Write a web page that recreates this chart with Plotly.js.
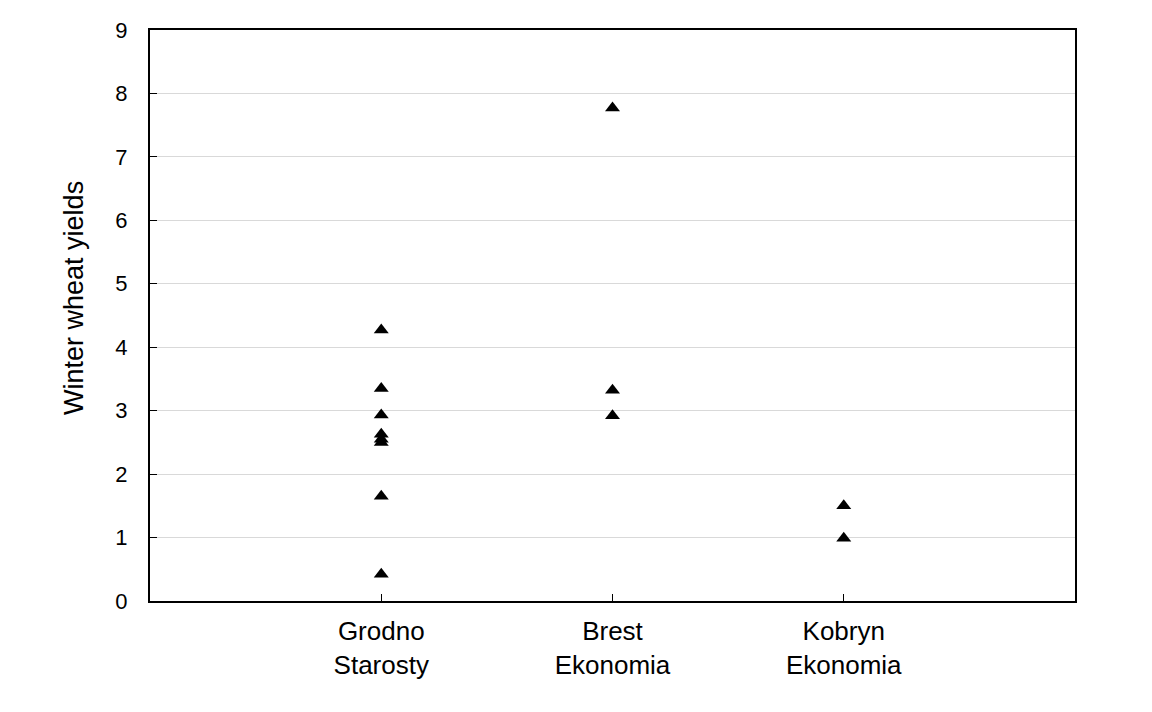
<!DOCTYPE html>
<html>
<head>
<meta charset="utf-8">
<script src="https://cdn.plot.ly/plotly-3.0.1.min.js"></script>
<style>html,body{margin:0;padding:0;background:#fff;}</style>
</head>
<body>
<div id="chart" style="width:1152px;height:712px;"></div>
<script>
const categories = ["Grodno<br>Starosty", "Brest<br>Ekonomia", "Kobryn<br>Ekonomia"];
const grodnoYields = [4.27, 3.35, 2.93, 2.63, 2.55, 2.50, 1.65, 0.42];
const brestYields = [7.77, 3.32, 2.92];
const kobrynYields = [1.50, 0.99];
const yTicks = [0, 1, 2, 3, 4, 5, 6, 7, 8, 9];
const yTitle = 'Winter wheat yields';

const groups = [grodnoYields, brestYields, kobrynYields];
const xs = [], ys = [];
groups.forEach((g, i) => g.forEach(v => { xs.push(i); ys.push(v); }));

const trace = {
  x: xs, y: ys, type: 'scatter', mode: 'markers',
  marker: {symbol: 'triangle-up', size: 13, color: '#000'},
  hoverinfo: 'y'
};

const layout = {
  width: 1152, height: 712,
  margin: {l: 150, r: 77, t: 30, b: 111},
  paper_bgcolor: '#fff', plot_bgcolor: '#fff',
  font: {family: 'Liberation Sans, Arial, sans-serif', color: '#000', size: 22},
  showlegend: false,
  xaxis: {
    range: [-1, 3],
    tickmode: 'array', tickvals: [0, 1, 2], ticktext: categories,
    ticks: 'inside', ticklen: 7, tickwidth: 1, tickcolor: '#000',
    showline: true, linecolor: '#000', linewidth: 2, mirror: true,
    showgrid: false, zeroline: false,
    tickfont: {size: 26}, ticklabelstandoff: 6
  },
  yaxis: {
    range: [0, 9],
    tickmode: 'array', tickvals: yTicks, ticktext: yTicks.map(String),
    ticks: 'inside', ticklen: 7, tickwidth: 1, tickcolor: '#000',
    showline: true, linecolor: '#000', linewidth: 2, mirror: true,
    showgrid: true, gridcolor: '#d9d9d9', gridwidth: 1, zeroline: false,
    tickfont: {size: 22}, ticklabelstandoff: 16
  },
  annotations: [{
    text: yTitle, textangle: -90, showarrow: false,
    xref: 'paper', yref: 'paper', x: -0.082, y: 0.531,
    xanchor: 'center', yanchor: 'middle',
    font: {size: 27, color: '#000'}
  }]
};

Plotly.newPlot('chart', [trace], layout, {displayModeBar: false, staticPlot: true});
</script>
</body>
</html>
